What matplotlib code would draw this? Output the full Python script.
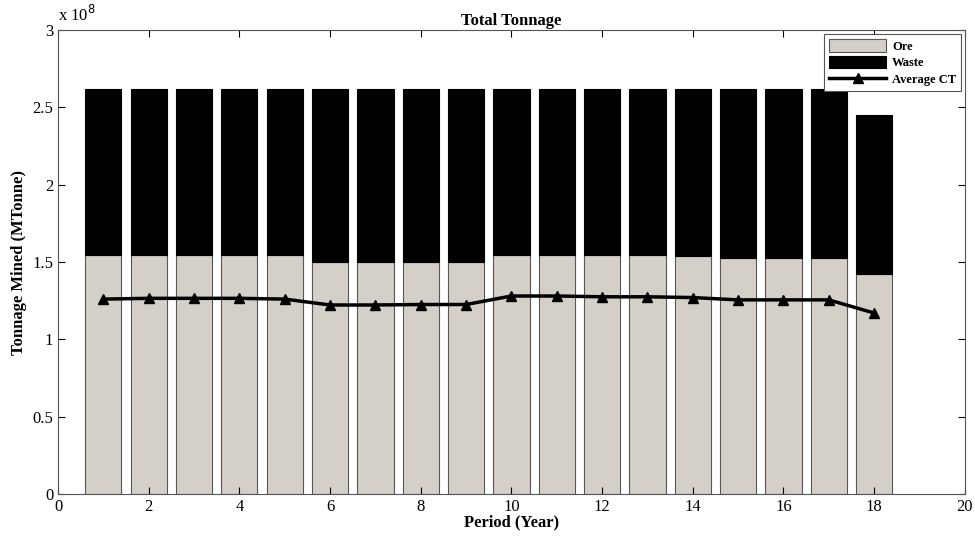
import matplotlib
matplotlib.use("Agg")
import matplotlib.pyplot as plt
from matplotlib.ticker import FuncFormatter, MultipleLocator

periods = list(range(1, 19))
ore = [1.545, 1.545, 1.545, 1.545, 1.545, 1.50, 1.50, 1.50, 1.50,
       1.547, 1.547, 1.547, 1.547, 1.536, 1.523, 1.523, 1.523, 1.42]
total = [2.62] * 17 + [2.45]
avg_ct = [1.26, 1.265, 1.265, 1.265, 1.26, 1.222, 1.222, 1.225, 1.225,
          1.28, 1.28, 1.275, 1.275, 1.27, 1.255, 1.255, 1.255, 1.17]

scale = 1e8
ore_t = [v * scale for v in ore]
waste_t = [(t - o) * scale for t, o in zip(total, ore)]
avg_t = [v * scale for v in avg_ct]

plt.rcParams['font.family'] = ['Liberation Serif', 'DejaVu Serif']

fig = plt.figure(figsize=(9.75, 5.38), dpi=100)
ax = fig.add_axes([0.0595, 0.082, 0.93, 0.862])

b1 = ax.bar(periods, ore_t, width=0.8, color='#d4d0c8', edgecolor='#555555', linewidth=0.8, label='Ore')
b2 = ax.bar(periods, waste_t, width=0.8, bottom=ore_t, color='black', edgecolor='black', linewidth=0.8, label='Waste')
l1, = ax.plot(periods, avg_t, color='black', linewidth=2.5, marker='^', markersize=7, label='Average CT')

ax.set_xlim(0, 20)
ax.set_ylim(0, 3e8)
ax.xaxis.set_major_locator(MultipleLocator(2))
ax.yaxis.set_major_locator(MultipleLocator(0.5e8))
ax.yaxis.set_major_formatter(FuncFormatter(lambda v, p: '%g' % (v / scale)))
ax.tick_params(direction='in', top=True, right=True, labelsize=12, length=5, width=0.8)
for s in ax.spines.values():
    s.set_color('#555555')

ax.text(0.0, 1.012, 'x 10$^8$', transform=ax.transAxes, fontsize=12, ha='left', va='bottom')
ax.set_title('Total Tonnage', fontsize=12, fontweight='bold', pad=4)
ax.set_xlabel('Period (Year)', fontsize=12, fontweight='bold', labelpad=0)
ax.set_ylabel('Tonnage Mined (MTonne)', fontsize=12, fontweight='bold', labelpad=4)

leg = ax.legend([b1, b2, l1], ['Ore', 'Waste', 'Average CT'], loc='upper right',
                prop={'weight': 'bold', 'size': 9},
                fancybox=False, edgecolor='#555555', framealpha=1,
                handlelength=4.5, handleheight=1.2, labelspacing=0.25,
                handletextpad=0.5, borderaxespad=0.3)
leg.get_frame().set_linewidth(0.8)

fig.savefig('out.png', dpi=100)
